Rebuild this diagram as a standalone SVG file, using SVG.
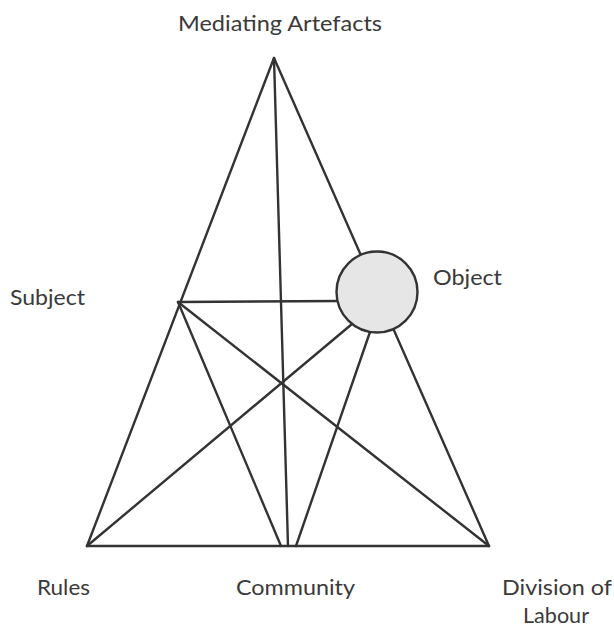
<svg xmlns="http://www.w3.org/2000/svg" width="614" height="630" viewBox="0 0 614 630">
<style>
.ln{stroke:#333;stroke-width:2.4;fill:none;stroke-linecap:round}
.lb{font-family:Lato,"Open Sans",sans-serif;font-size:21px;fill:#3a3a3a}
</style>
<rect width="614" height="630" fill="#ffffff"/>
<g id="connectors">
<line class="ln" x1="274" y1="58" x2="87" y2="546"/>
<line class="ln" x1="274" y1="58" x2="489" y2="546"/>
<line class="ln" x1="87" y1="546" x2="489" y2="546"/>
<line class="ln" x1="274" y1="58" x2="288" y2="546"/>
<line class="ln" x1="178" y1="302" x2="340" y2="301"/>
<line class="ln" x1="178" y1="302" x2="281" y2="546"/>
<line class="ln" x1="178" y1="302" x2="489" y2="546"/>
<line class="ln" x1="87" y1="546" x2="352" y2="324"/>
<line class="ln" x1="370" y1="332" x2="296" y2="546"/>
</g>
<g id="object">
<circle cx="377" cy="292" r="40.5" fill="#e6e6e6" stroke="#333" stroke-width="2.4"/>
<text class="lb" x="433" y="285" textLength="69" lengthAdjust="spacingAndGlyphs">Object</text>
</g>
<g id="mediating-artefacts">
<text class="lb" x="178" y="31" textLength="204" lengthAdjust="spacingAndGlyphs">Mediating Artefacts</text>
</g>
<g id="subject">
<text class="lb" x="10" y="305" textLength="75" lengthAdjust="spacingAndGlyphs">Subject</text>
</g>
<g id="rules">
<text class="lb" x="37" y="595" textLength="53" lengthAdjust="spacingAndGlyphs">Rules</text>
</g>
<g id="community">
<text class="lb" x="236" y="595" textLength="119" lengthAdjust="spacingAndGlyphs">Community</text>
</g>
<g id="division-of-labour">
<text class="lb" x="502" y="595" textLength="110" lengthAdjust="spacingAndGlyphs">Division of</text>
<text class="lb" x="523" y="623" textLength="66" lengthAdjust="spacingAndGlyphs">Labour</text>
</g>
</svg>
